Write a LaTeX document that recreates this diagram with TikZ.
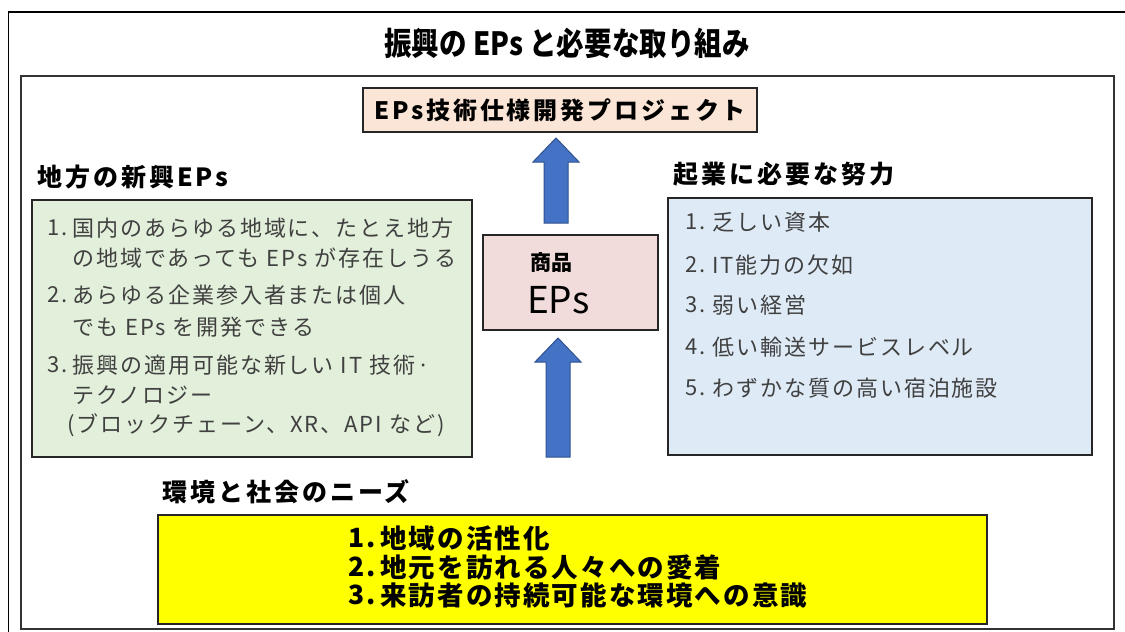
\documentclass[tikz,border=0pt]{standalone}
\usepackage{fontspec}
\setmainfont{Noto Sans CJK JP}
\newfontfamily\jpl[LetterSpace=9]{Noto Sans CJK JP}
\newfontfamily\jph[LetterSpace=12]{Noto Sans CJK JP}
\newfontfamily\jpn[LetterSpace=8]{Noto Sans CJK JP}
\newfontfamily\jpt[FakeStretch=0.86]{Noto Sans CJK JP}
\usetikzlibrary{calc}
\definecolor{peach}{HTML}{FBE5D6}
\definecolor{pinkbox}{HTML}{F2DCDB}
\definecolor{greenbox}{HTML}{E2EFDA}
\definecolor{bluebox}{HTML}{DEEBF7}
\definecolor{yellowbox}{HTML}{FFFF00}
\definecolor{arrowblue}{HTML}{4472C4}
\definecolor{arrowedge}{HTML}{2F528F}
\definecolor{listgray}{HTML}{404040}
\newcommand\blockup[2]{%
  \draw[barrow] let \p1=(#1), \p2=(#2) in
    (\p1) -- (\x1+23pt,\y1-24pt) -- (\x1+12pt,\y1-24pt) -- (\x1+12pt,\y2)
    -- (\x1-12pt,\y2) -- (\x1-12pt,\y1-24pt) -- (\x1-23pt,\y1-24pt) -- cycle;}
\begin{document}
\begin{tikzpicture}[x=1pt,y=-1pt,
  frame/.style={draw=black, line width=1.5pt},
  innerframe/.style={draw=black!80, line width=2.5pt},
  box/.style={draw=black!85, line width=1.6pt, inner sep=0},
  list/.style={anchor=west, inner sep=0, text=listgray, font=\jpl\fontsize{22}{26}\selectfont},
  head/.style={anchor=west, inner sep=0, font=\jph\bfseries\fontsize{25}{30}\selectfont},
  need/.style={anchor=west, inner sep=0, font=\jpn\bfseries\fontsize{26.5}{30}\selectfont},
  barrow/.style={fill=arrowblue, draw=arrowedge, line width=1pt}]
\useasboundingbox (0,0) rectangle (1125,632);
\fill[white] (0,0) rectangle (1125,632);
% frames
\draw[frame] (8.5,632) -- (8.5,12) -- (1125,12);
\node[innerframe, minimum width=1093, minimum height=553, inner sep=0] (inner) at (567.5,352.5) {};
% title
\node[inner sep=0, font=\jpt\bfseries\fontsize{32}{36}\selectfont] (title) at (567,43) {振興の EPs と必要な取り組み};
% top box
\node[box, fill=peach, minimum width=394, minimum height=44, font=\jph\bfseries\fontsize{24}{28}\selectfont] (proj) at (560,110) {EPs技術仕様開発プロジェクト};
% center box
\node[box, fill=pinkbox, minimum width=175, minimum height=95] (prod) at (570.5,282.5) {};
\node[anchor=west, inner sep=0, font=\bfseries\fontsize{21}{24}\selectfont] (prodA) at (530,263) {商品};
\node[anchor=west, inner sep=0, font=\fontsize{37}{40}\selectfont] (prodB) at (527,300) {EPs};
% arrows
\coordinate (a1t) at (556,138);
\coordinate (a1b) at (556,223);
\coordinate (a2t) at (558,338);
\coordinate (a2b) at (558,457);
\blockup{a1t}{a1b}
\blockup{a2t}{a2b}
% left
\node[head] (lh) at (37,177) {地方の新興EPs};
\node[box, fill=greenbox, minimum width=440, minimum height=257] (lbox) at (252,328.5) {};
\node[list] (ln1) at (47,228) {1.};
\node[list] (lt1) at (72,228) {国内のあらゆる地域に、たとえ地方};
\node[list] (lt1b) at (72,258) {の地域であっても EPs が存在しうる};
\node[list] (ln2) at (47,295) {2.};
\node[list] (lt2) at (72,295) {あらゆる企業参入者または個人};
\node[list] (lt2b) at (72,327) {でも EPs を開発できる};
\node[list] (ln3) at (47,365) {3.};
\node[list] (lt3) at (72,365) {振興の適用可能な新しい IT 技術·};
\node[list] (lt3b) at (72,395) {テクノロジー};
\node[list] (lt3c) at (67,425) {(ブロックチェーン、XR、API など)};
% right
\node[head] (rh) at (673,174) {起業に必要な努力};
\node[box, fill=bluebox, minimum width=424, minimum height=257] (rbox) at (880,326.5) {};
\node[list] (rn1) at (685,222) {1.};
\node[list] (rt1) at (712,222) {乏しい資本};
\node[list] (rn2) at (685,265) {2.};
\node[list] (rt2) at (712,265) {IT能力の欠如};
\node[list] (rn3) at (685,305) {3.};
\node[list] (rt3) at (712,305) {弱い経営};
\node[list] (rn4) at (685,347) {4.};
\node[list] (rt4) at (712,347) {低い輸送サービスレベル};
\node[list] (rn5) at (685,388) {5.};
\node[list] (rt5) at (712,388) {わずかな質の高い宿泊施設};
% bottom
\node[head] (bh) at (162,492) {環境と社会のニーズ};
\node[box, fill=yellowbox, minimum width=829, minimum height=109] (ybox) at (572.5,569.5) {};
\node[need] (yn1) at (348,538) {1.};
\node[need] (yt1) at (380,538) {地域の活性化};
\node[need] (yn2) at (348,567) {2.};
\node[need] (yt2) at (380,567) {地元を訪れる人々への愛着};
\node[need] (yn3) at (348,595) {3.};
\node[need] (yt3) at (380,595) {来訪者の持続可能な環境への意識};
\end{tikzpicture}
\end{document}
